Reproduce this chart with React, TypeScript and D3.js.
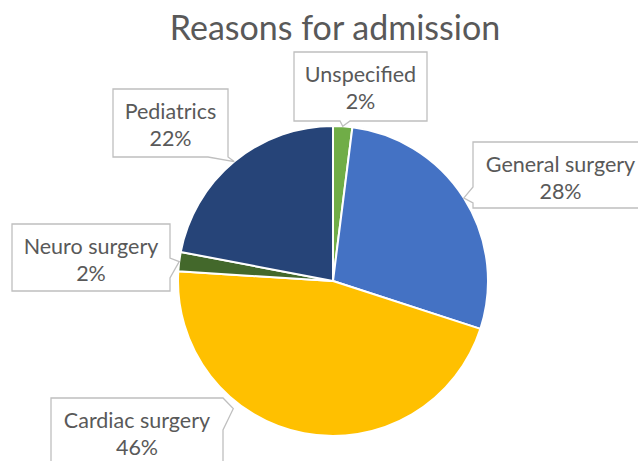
import React from "react";
import * as d3 from "d3";

const categories = ["Unspecified", "General surgery", "Cardiac surgery", "Neuro surgery", "Pediatrics"];
const percents = [2, 28, 46, 2, 22];
const colors = ["#70AD47", "#4472C4", "#FFC000", "#43682B", "#264478"];
const title = "Reasons for admission";

type Side = "top" | "right" | "bottom" | "left";
interface Callout {
  x: number; y: number; w: number; h: number;
  side: Side; base: [number, number];
  tipAngleDeg?: number; tipR?: number;
}
// label box layout (by category index)
const callouts: Callout[] = [
  { x: 294, y: 52, w: 133, h: 69, side: "bottom", base: [350, 340] },
  { x: 473, y: 142, w: 175, h: 66, side: "left", base: [203, 187] },
  { x: 51, y: 398, w: 172, h: 68, side: "right", base: [398, 430], tipAngleDeg: 218, tipR: 162 },
  { x: 12, y: 224, w: 158, h: 67, side: "right", base: [258, 278] },
  { x: 113, y: 89, w: 115, h: 68, side: "bottom", base: [228, 208] },
];

const W = 638, H = 461;
const cx = 333, cy = 281, R = 155;

function calloutPath(c: Callout, tip: [number, number]): string {
  const { x, y, w, h, side, base } = c;
  const pts: [number, number][] = [];
  pts.push([x, y]);
  if (side === "top") { pts.push([base[0], y], tip, [base[1], y]); }
  pts.push([x + w, y]);
  if (side === "right") { pts.push([x + w, base[0]], tip, [x + w, base[1]]); }
  pts.push([x + w, y + h]);
  if (side === "bottom") { pts.push([base[0], y + h], tip, [base[1], y + h]); }
  pts.push([x, y + h]);
  if (side === "left") { pts.push([x, base[0]], tip, [x, base[1]]); }
  return "M" + pts.map((p) => p.join(",")).join("L") + "Z";
}

export default function App() {
  const pie = d3.pie<number>().sort(null).value((d) => d).startAngle(0).endAngle(2 * Math.PI);
  const arcs = pie(percents);
  const arc = d3.arc<d3.PieArcDatum<number>>().innerRadius(0).outerRadius(R);
  const total = d3.sum(percents);
  const fmt = (v: number) => `${Math.round((v / total) * 100)}%`;
  const font = "Lato, 'Open Sans', sans-serif";

  return (
    <svg width={W} height={H} style={{ position: "absolute", left: 0, top: 0, background: "#fff" }}>
      <rect x={0} y={0} width={W} height={H} fill="#fff" />
      <text x={335} y={40} textAnchor="middle" fontFamily={font} fontSize={34} fill="#595959">
        {title}
      </text>
      <g transform={`translate(${cx},${cy})`}>
        {arcs.map((a, i) => (
          <path key={i} d={arc(a) || ""} fill={colors[i]} stroke="#fff" strokeWidth={2} strokeLinejoin="round" />
        ))}
      </g>
      {arcs.map((a, i) => {
        const c = callouts[i];
        const ang = c.tipAngleDeg !== undefined ? (c.tipAngleDeg * Math.PI) / 180 : (a.startAngle + a.endAngle) / 2;
        const r = c.tipR ?? R;
        const tip: [number, number] = [cx + r * Math.sin(ang), cy - r * Math.cos(ang)];
        const tx = c.x + c.w / 2;
        return (
          <g key={"l" + i}>
            <path d={calloutPath(c, tip)} fill="#fff" stroke="#BFBFBF" strokeWidth={1.3} />
            <text x={tx} y={c.y + 29.5} textAnchor="middle" fontFamily={font} fontSize={21.5} fill="#595959">
              {categories[i]}
            </text>
            <text x={tx} y={c.y + 57} textAnchor="middle" fontFamily={font} fontSize={21.5} fill="#595959">
              {fmt(a.value)}
            </text>
          </g>
        );
      })}
    </svg>
  );
}
